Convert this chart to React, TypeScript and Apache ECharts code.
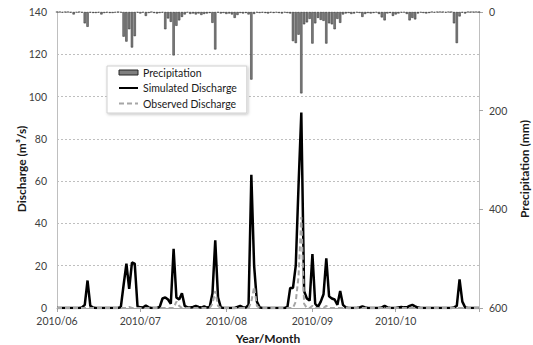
import React, { useEffect, useRef } from "react";
import * as echarts from "echarts";

// Daily categories, 2010-06-01 .. 2010-10-31
const START = Date.UTC(2010, 5, 1);
const DAYS = 153;
const dates: string[] = Array.from({ length: DAYS }, (_, i) =>
  new Date(START + i * 86400000).toISOString().slice(0, 10)
);

// Simulated discharge (m3/s), one value per day
const simulated: number[] = [
  0, 0, 0, 0, 0, 0, 0, 0, 0, 0.3,
  1.5, 13, 1, 0.2, 0, 0, 0, 0, 0, 0,
  0, 0, 0, 0.5, 11, 21, 9, 21.5, 21, 0.8,
  0.3, 0.2, 1.2, 0.3, 0, 0, 0, 0.5, 4.5, 5,
  4, 2, 28, 5, 4, 7, 1, 0.3, 0.2, 0.5,
  1, 0.5, 0.2, 0.8, 0.2, 0.5, 7, 32, 5, 0.3,
  0, 0, 0, 0, 0, 0.5, 1, 0.3, 0.2, 1.5,
  63, 20, 3, 0.3, 0, 0, 0, 0, 0, 0,
  0, 0, 0, 0.5, 9.5, 9.5, 20, 58, 92.5, 8,
  4.5, 3.5, 25.5, 2, 0.5, 3, 6.5, 23.5, 5.5, 4.5,
  4, 1.5, 8, 1.5, 0.3, 0, 0, 0, 0, 0.3,
  0.8, 0.3, 0, 0, 0, 0, 0, 0.3, 1, 0.3,
  0, 0, 0, 0.3, 0.5, 0.3, 0.3, 1, 1.5, 0.8,
  0.2, 0, 0, 0, 0, 0, 0, 0, 0, 0,
  0, 0, 0, 0.3, 1, 13.5, 3, 0.3, 0, 0,
  0, 0, 0,
];

// Observed discharge (m3/s)
const observed: number[] = [
  0, 0, 0, 0, 0, 0, 0, 0, 0, 0,
  0, 0, 0, 0, 0, 0, 0, 0, 0, 0,
  0, 0, 0, 0, 0, 0, 0.5, 0, 0, 0,
  0, 0, 0, 0, 0, 0, 0, 0, 0, 0,
  0, 0, 0, 3, 1, 0, 0, 0, 0, 0,
  0, 0, 0, 0, 0, 0, 2, 8, 1, 0,
  0, 0, 0, 0, 0, 0, 0, 0, 0, 0,
  3, 10, 1, 0, 0, 0, 0, 0, 0, 0,
  0, 0, 0, 0, 0, 0, 3, 15, 43, 2,
  0, 0, 1, 0, 0, 0, 0, 1, 0, 0,
  0, 0, 0, 0, 0, 0, 0, 0, 0, 0,
  0, 0, 0, 0, 0, 0, 0, 0, 0, 0,
  0, 0, 0, 0, 0, 0, 0, 0, 0, 0,
  0, 0, 0, 0, 0, 0, 0, 0, 0, 0,
  0, 0, 0, 0, 0, 0, 0, 0, 0, 0,
  0, 0, 0,
];

// Precipitation (mm)
const precipitation: number[] = [
  0, 0, 1, 0, 0, 1, 5, 1, 0, 1,
  23, 30, 1, 2, 2, 1, 5, 2, 1, 2,
  2, 1, 0, 1, 50, 60, 35, 72, 49, 1,
  3, 1, 8, 2, 0, 2, 3, 2, 1, 35,
  13, 20, 88, 28, 17, 10, 5, 1, 4, 3,
  5, 3, 6, 4, 3, 2, 22, 76, 1, 3,
  2, 4, 3, 5, 12, 6, 2, 3, 2, 5,
  137, 4, 1, 2, 1, 2, 3, 1, 2, 1,
  2, 3, 1, 2, 3, 59, 63, 46, 165, 25,
  21, 14, 64, 23, 12, 16, 18, 64, 23, 25,
  35, 14, 22, 5, 3, 2, 4, 3, 1, 2,
  10, 4, 2, 3, 2, 1, 4, 11, 17, 3,
  2, 8, 5, 3, 1, 1, 4, 17, 12, 15,
  3, 1, 2, 3, 2, 0, 1, 0, 0, 0,
  1, 0, 0, 23, 63, 9, 1, 3, 0, 0,
  0, 0, 0,
];

const FONT = "Lato";

export default function App() {
  const ref = useRef<HTMLDivElement>(null);
  useEffect(() => {
    if (!ref.current) return;
    const chart = echarts.init(ref.current, undefined, { renderer: "svg" });
    const isMonthStart = (_i: number, v: string) => v.endsWith("-01");
    chart.setOption({
      animation: false,
      backgroundColor: "#ffffff",
      textStyle: { fontFamily: FONT },
      grid: { left: 57, right: 54, top: 12, bottom: 37, outerBoundsMode: "none" },
      legend: {
        orient: "vertical",
        left: 107,
        top: 66,
        padding: [0, 10, 3, 11],
        itemGap: 2.5,
        itemWidth: 19,
        itemHeight: 5,
        backgroundColor: "#ffffff",
        borderColor: "#d0d0d0",
        borderWidth: 1,
        shadowColor: "rgba(0,0,0,0.25)",
        shadowBlur: 3,
        shadowOffsetX: 1,
        shadowOffsetY: 1,
        textStyle: { fontFamily: FONT, fontSize: 10.5, color: "#1a1a1a", lineHeight: 13 },
        data: [
          {
            name: "Precipitation",
            icon: "rect",
            itemStyle: { color: "#7f7f7f", borderColor: "#262626", borderWidth: 1 },
          },
          { name: "Simulated Discharge", itemStyle: { opacity: 0 } },
          { name: "Observed Discharge", itemStyle: { opacity: 0 } },
        ],
      },
      xAxis: {
        type: "category",
        data: dates,
        boundaryGap: false,
        name: "Year/Month",
        nameLocation: "middle",
        nameGap: 24,
        nameTextStyle: { fontFamily: FONT, fontSize: 12, fontWeight: "bold", color: "#1a1a1a" },
        axisLine: { lineStyle: { color: "#a6a6a6", width: 1 } },
        axisTick: {
          show: true,
          length: 4,
          interval: (i: number, v: string) => v.endsWith("-01") || i === DAYS - 1,
          lineStyle: { color: "#a6a6a6" },
        },
        axisLabel: {
          interval: isMonthStart,
          margin: 7,
          fontFamily: FONT,
          fontSize: 10.5,
          color: "#404040",
          formatter: (v: string) => v.slice(0, 4) + "/" + v.slice(5, 7),
        },
        splitLine: { show: false },
      },
      yAxis: [
        {
          type: "value",
          min: 0,
          max: 140,
          interval: 20,
          name: "Discharge (m\u00b3/s)",
          nameLocation: "middle",
          nameRotate: 90,
          nameGap: 30,
          nameMoveOverlap: false,
          nameTextStyle: {
            fontFamily: FONT,
            fontSize: 12,
            fontWeight: "bold",
            color: "#1a1a1a",
            padding: [0, 18, 0, 0],
          },
          axisLine: { show: true, lineStyle: { color: "#bfbfbf" } },
          axisTick: { show: false },
          axisLabel: { margin: 10, fontFamily: FONT, fontSize: 10.5, color: "#404040" },
          splitLine: { show: true, lineStyle: { color: "#bfbfbf", type: [2, 2], width: 1 } },
        },
        {
          type: "value",
          min: 0,
          max: 600,
          interval: 200,
          inverse: true,
          position: "right",
          name: "Precipitation (mm)",
          nameLocation: "middle",
          nameRotate: 90,
          nameGap: 38,
          nameTextStyle: {
            fontFamily: FONT,
            fontSize: 12,
            fontWeight: "bold",
            color: "#1a1a1a",
            padding: [0, 18, 0, 0],
          },
          axisLine: { show: true, lineStyle: { color: "#bfbfbf" } },
          axisTick: { show: true, length: 4, lineStyle: { color: "#a6a6a6" } },
          axisLabel: { margin: 10, fontFamily: FONT, fontSize: 10.5, color: "#404040" },
          splitLine: { show: false },
        },
      ],
      series: [
        {
          name: "Precipitation",
          type: "bar",
          yAxisIndex: 1,
          data: precipitation,
          barWidth: 2.3,
          itemStyle: { color: "#7f7f7f", borderColor: "#262626", borderWidth: 0.5 },
          z: 1,
        },
        {
          name: "Simulated Discharge",
          type: "line",
          data: simulated,
          symbol: "none",
          lineStyle: { color: "#000000", width: 2.5 },
          itemStyle: { color: "#000000" },
          z: 3,
        },
        {
          name: "Observed Discharge",
          type: "line",
          data: observed,
          symbol: "none",
          lineStyle: { color: "#a6a6a6", width: 2, type: [5, 3] },
          itemStyle: { color: "#a6a6a6" },
          z: 4,
        },
      ],
    });
    return () => chart.dispose();
  }, []);
  return (
    <div
      ref={ref}
      style={{ position: "fixed", left: 0, top: 0, width: 533, height: 345 }}
    />
  );
}
